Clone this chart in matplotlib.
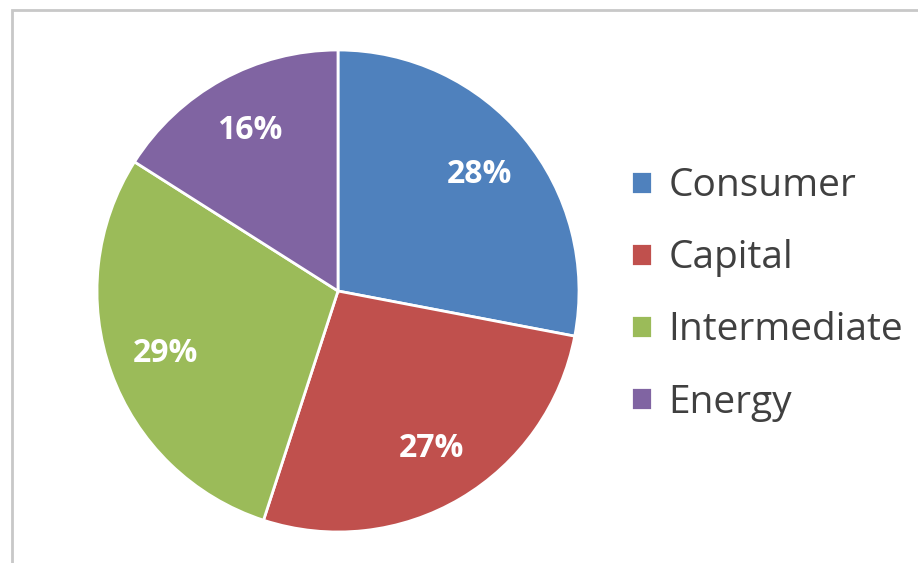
import matplotlib.pyplot as plt
from matplotlib.patches import Rectangle

categories = ['Consumer', 'Capital', 'Intermediate', 'Energy']
shares = [28, 27, 29, 16]
colors = ['#4F81BD', '#C0504D', '#9BBB59', '#8064A2']

plt.rcParams['font.family'] = ['Open Sans', 'DejaVu Sans']

W, H = 918, 563
fig = plt.figure(figsize=(W / 100, H / 100), dpi=100)

# pie centre / radius in pixels
cx, cy, r = 338, 291, 241
ax = fig.add_axes([(cx - r) / W, (H - cy - r) / H, 2 * r / W, 2 * r / H])

wedges, texts, autotexts = ax.pie(
    shares, colors=colors, startangle=90, counterclock=False,
    autopct='%d%%', pctdistance=0.76, radius=1,
    wedgeprops=dict(edgecolor='white', linewidth=2),
    textprops=dict(color='white', fontsize=23, fontweight='bold'))
ax.set_xlim(-1, 1)
ax.set_ylim(-1, 1)
ax.axis('off')

fig.legend(wedges, categories, loc='upper left',
           bbox_to_anchor=(596 / W, 1 - 132 / H), frameon=False,
           fontsize=28, labelcolor='#404040', handlelength=0.54,
           handleheight=0.54, handletextpad=0.42, labelspacing=0.88)

# chart border
fig.patches.append(Rectangle((12 / W, -0.1), 1.2, 1 - 10 / H + 0.1,
                             transform=fig.transFigure, fill=False,
                             edgecolor='#C8C8C8', linewidth=2))

fig.savefig('out.png', dpi=100)
